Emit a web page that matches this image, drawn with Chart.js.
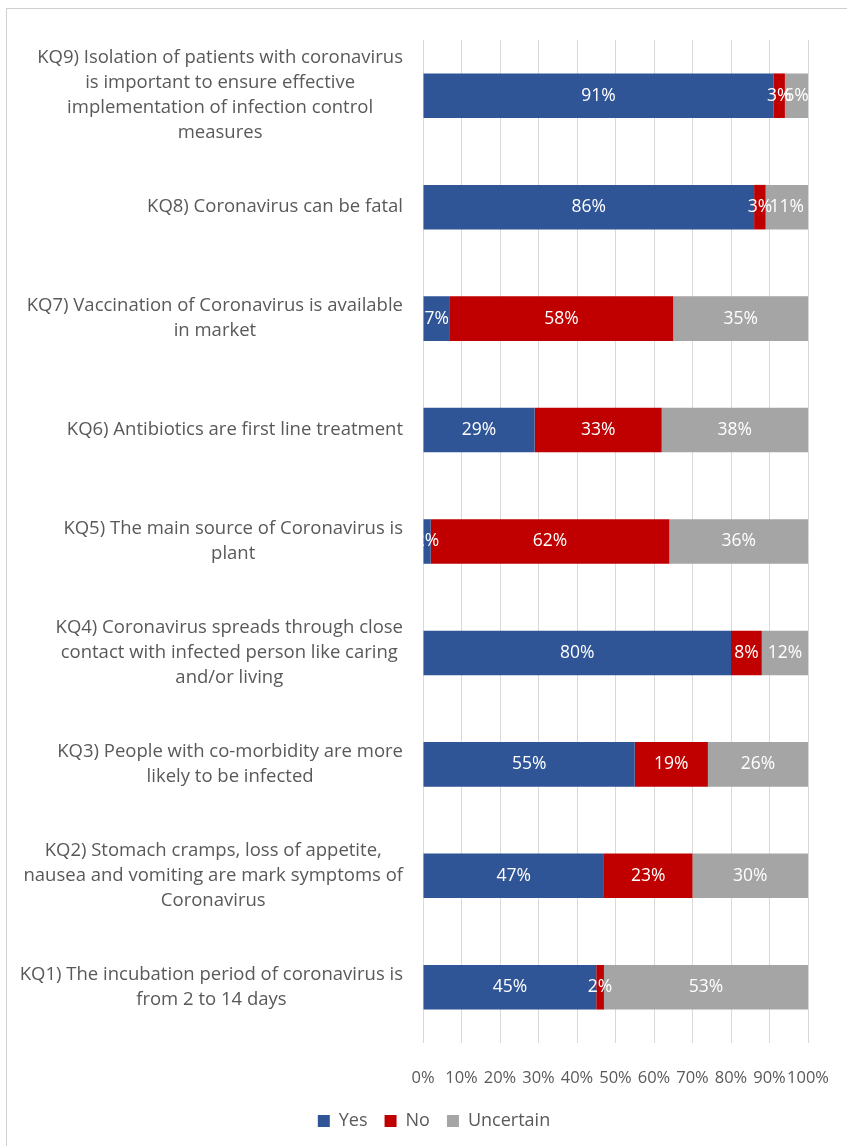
<!DOCTYPE html>
<html lang="en">

<head>
    <meta charset="UTF-8" />
    <title>Knowledge questions</title>
    <script src="https://cdn.jsdelivr.net/npm/chart.js"></script>
    <style>
        html, body { margin: 0; padding: 0; background: #fff; overflow: hidden; }
        .quadro { position: relative; width: 847px; height: 1146px; }
        .moldura {
            position: absolute; left: 6px; top: 8px; width: 900px; height: 1200px;
            border: 1px solid #d0d0d0; pointer-events: none;
        }
        canvas { position: absolute; left: 0; top: 0; }
    </style>
</head>

<body>
    <div class="quadro">
        <canvas id="grafico" width="847" height="1146"></canvas>
        <div class="moldura"></div>
    </div>

<script>
    // perguntas (de cima para baixo), cada linha como aparece no eixo
    const perguntas = [
        ["KQ9) Isolation of patients with coronavirus", "is important to ensure effective", "implementation of infection control", "measures"],
        ["KQ8) Coronavirus can be fatal"],
        ["KQ7) Vaccination of Coronavirus is available", "in market"],
        ["KQ6) Antibiotics are first line treatment"],
        ["KQ5) The main source of Coronavirus is", "plant"],
        ["KQ4) Coronavirus spreads through close", "contact with infected person like caring", "and/or living"],
        ["KQ3) People with co-morbidity are more", "likely to be infected"],
        ["KQ2) Stomach cramps, loss of appetite,", "nausea and vomiting are mark symptoms of", "Coronavirus"],
        ["KQ1) The incubation period of coronavirus is", "from 2 to 14 days"]
    ];

    const sim = [91, 86, 7, 29, 2, 80, 55, 47, 45];
    const nao = [3, 3, 58, 33, 62, 8, 19, 23, 2];
    const incerto = [6, 11, 35, 38, 36, 12, 26, 30, 53];

    const ticksX = [0, 10, 20, 30, 40, 50, 60, 70, 80, 90, 100];

    const fonte = "'Open Sans', 'Noto Sans', sans-serif";
    const cinzaTexto = '#595959';

    // escreve as perguntas: bloco alinhado à direita, linhas centralizadas no bloco
    const rotulosPerguntas = {
        id: 'rotulosPerguntas',
        afterDraw(chart) {
            const ctx = chart.ctx;
            const eixo = chart.scales.y;
            const direita = chart.chartArea.left - 20;
            const alturaLinha = 25;
            ctx.save();
            ctx.font = '18.5px ' + fonte;
            ctx.fillStyle = cinzaTexto;
            ctx.textAlign = 'center';
            ctx.textBaseline = 'middle';
            perguntas.forEach((linhas, i) => {
                const largura = Math.max(...linhas.map(l => ctx.measureText(l).width));
                const cx = direita - largura / 2;
                const cy = eixo.getPixelForValue(i);
                const y0 = cy - (linhas.length - 1) * alturaLinha / 2;
                linhas.forEach((l, j) => ctx.fillText(l, cx, y0 + j * alturaLinha));
            });
            ctx.restore();
        }
    };

    // valores dentro de cada segmento
    const valoresBarras = {
        id: 'valoresBarras',
        afterDatasetsDraw(chart) {
            const ctx = chart.ctx;
            const area = chart.chartArea;
            ctx.save();
            ctx.beginPath();
            ctx.rect(area.left, area.top, area.right - area.left, area.bottom - area.top);
            ctx.clip();
            ctx.font = '17.5px ' + fonte;
            ctx.fillStyle = '#ffffff';
            ctx.textAlign = 'center';
            ctx.textBaseline = 'middle';
            chart.data.datasets.forEach((ds, d) => {
                chart.getDatasetMeta(d).data.forEach((barra, i) => {
                    const meio = (barra.x + barra.base) / 2;
                    ctx.fillText(ds.data[i] + '%', meio, barra.y);
                });
            });
            ctx.restore();
        }
    };

    const dados = {
        labels: perguntas,
        datasets: [
            { label: 'Yes', data: sim, backgroundColor: '#2F5597' },
            { label: 'No', data: nao, backgroundColor: '#C00000' },
            { label: 'Uncertain', data: incerto, backgroundColor: '#A5A5A5' }
        ]
    };

    const config = {
        type: 'bar',
        data: dados,
        options: {
            indexAxis: 'y',
            responsive: false,
            animation: false,
            barPercentage: 0.4,
            categoryPercentage: 1,
            layout: { padding: { top: 40, right: 39, bottom: 6, left: 60 } },
            scales: {
                x: {
                    stacked: true,
                    min: 0,
                    max: 100,
                    afterBuildTicks: (scale) => { scale.ticks = ticksX.map(v => ({ value: v })); },
                    afterFit: (scale) => {
                        scale.height = 52;
                        scale.paddingLeft = 0;
                        scale.paddingRight = 0;
                    },
                    grid: { color: '#d9d9d9', lineWidth: 1, drawTicks: false },
                    border: { display: false },
                    ticks: {
                        autoSkip: false,
                        maxRotation: 0,
                        padding: 25,
                        color: cinzaTexto,
                        font: { family: fonte, size: 16.5 },
                        callback: (v) => v + '%'
                    }
                },
                y: {
                    stacked: true,
                    afterFit: (scale) => { scale.width = 363; },
                    grid: { display: false },
                    border: { display: false },
                    ticks: { display: false }
                }
            },
            plugins: {
                legend: {
                    position: 'bottom',
                    labels: {
                        boxWidth: 12,
                        boxHeight: 12,
                        padding: 17,
                        color: cinzaTexto,
                        font: { family: fonte, size: 18 }
                    }
                },
                tooltip: { enabled: false }
            }
        },
        plugins: [rotulosPerguntas, valoresBarras]
    };

    let grafico = new Chart(document.getElementById('grafico'), config);
</script>
</body>

</html>
